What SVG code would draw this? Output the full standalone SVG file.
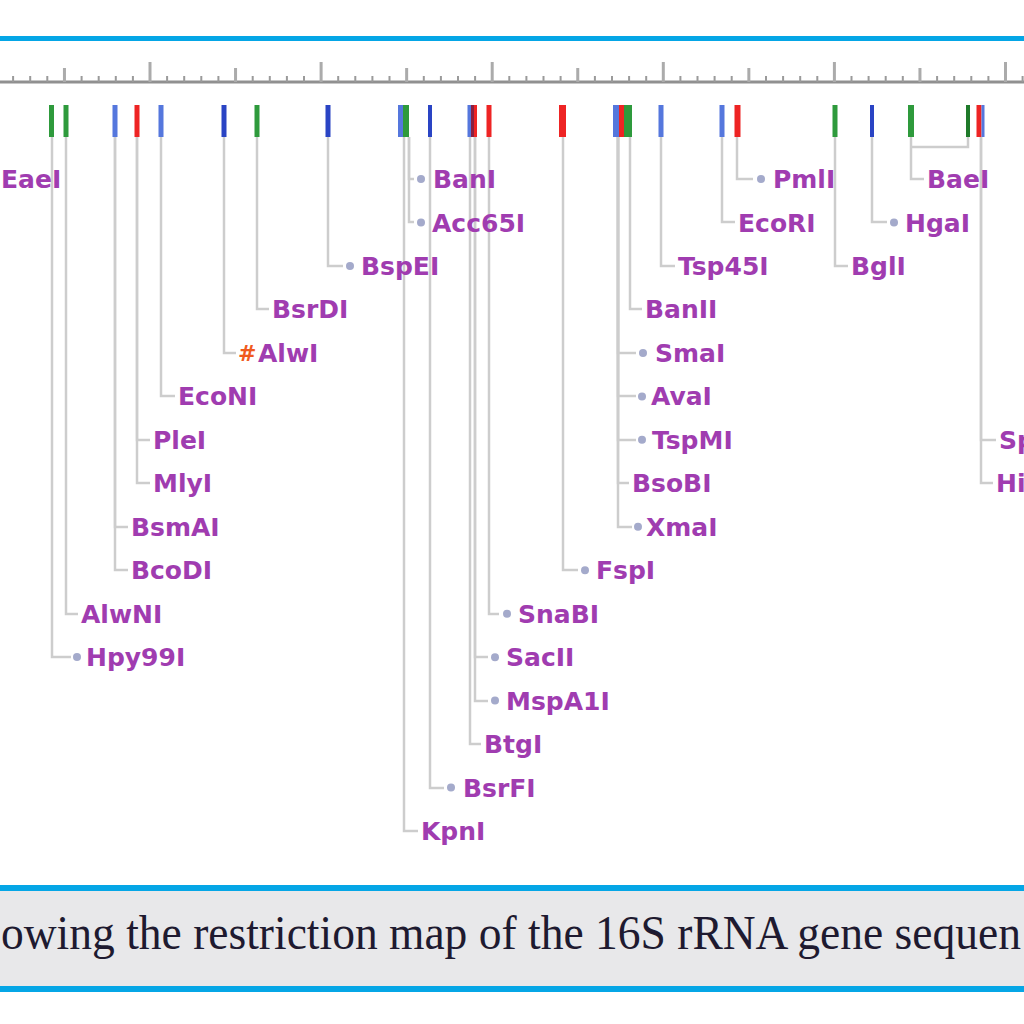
<svg xmlns="http://www.w3.org/2000/svg" width="1024" height="1024" viewBox="0 0 1024 1024">
<style>
.lbl{font-family:"DejaVu Sans",Verdana,sans-serif;font-weight:bold;font-size:25px;fill:#a03cb0}
.hash{font-family:"DejaVu Sans",Verdana,sans-serif;font-weight:bold;font-size:22px;fill:#f05a1e}
.star{fill:#a4aacb}
.con{fill:none;stroke:#cdcdcd;stroke-width:2.5}
.tick{stroke:#9a9a9a;stroke-width:2}
.tickL{stroke:#ababab;stroke-width:3}
.g{fill:#2e9a3c}.gd{fill:#1f7a2a}.b{fill:#5577dd}.bd{fill:#2a44c4}.r{fill:#ee2424}.dr{fill:#8a2040}
.cap{font-family:"Liberation Serif","Times New Roman",serif;font-size:48px;fill:#1e1a30}
</style>
<rect width="1024" height="1024" fill="#ffffff"/>
<rect x="0" y="36" width="1024" height="5" fill="#05a6e6"/>

<g id="ruler">
<line x1="0" y1="82" x2="1024" y2="82" stroke="#909090" stroke-width="3"/>
<path class="tick" d="M13.1 82V76M30.2 82V76M47.3 82V76M81.6 82V76M98.7 82V76M115.8 82V76M132.9 82V76M167.1 82V76M184.2 82V76M201.3 82V76M218.4 82V76M252.7 82V76M269.8 82V76M286.9 82V76M304 82V76M338.2 82V76M355.3 82V76M372.4 82V76M389.5 82V76M423.8 82V76M440.9 82V76M458 82V76M475.1 82V76M509.3 82V76M526.4 82V76M543.5 82V76M560.6 82V76M594.9 82V76M612 82V76M629.1 82V76M646.2 82V76M680.4 82V76M697.5 82V76M714.6 82V76M731.7 82V76M766 82V76M783.1 82V76M800.2 82V76M817.3 82V76M851.5 82V76M868.6 82V76M885.7 82V76M902.8 82V76M937.1 82V76M954.2 82V76M971.3 82V76M988.4 82V76M1022.6 82V76"/>
<path class="tickL" d="M64.45 82V68M235.55 82V68M406.65 82V68M577.75 82V68M748.85 82V68M919.95 82V68"/>
<path class="tickL" d="M150 82V62M321.1 82V62M492.2 82V62M663.3 82V62M834.4 82V62M1005.5 82V62"/>
</g>

<g id="connectors">
<path class="con" d="M52 137V657H71"/>
<path class="con" d="M66 137V614H78"/>
<path class="con" d="M115 137V527H128"/>
<path class="con" d="M115 137V570H128"/>
<path class="con" d="M137 137V440H150"/>
<path class="con" d="M137 137V483H150"/>
<path class="con" d="M161 137V396H175"/>
<path class="con" d="M224 137V353H236"/>
<path class="con" d="M257 137V309H269"/>
<path class="con" d="M328 137V266H343"/>
<path class="con" d="M409 137V179H414"/>
<path class="con" d="M409 137V222H414"/>
<path class="con" d="M404 137V831H418"/>
<path class="con" d="M430 137V788H444"/>
<path class="con" d="M470 137V744H481"/>
<path class="con" d="M475 137V701H488"/>
<path class="con" d="M475 137V657H488"/>
<path class="con" d="M489 137V614H499"/>
<path class="con" d="M563 137V570H578"/>
<path class="con" d="M630 137V309H642"/>
<path class="con" d="M618 137V353H636"/>
<path class="con" d="M618 137V396H636"/>
<path class="con" d="M618 137V440H636"/>
<path class="con" d="M618 137V483H629"/>
<path class="con" d="M618 137V527H632"/>
<path class="con" d="M661 137V266H675"/>
<path class="con" d="M722 137V222H735"/>
<path class="con" d="M737 137V179H753"/>
<path class="con" d="M835 137V266H848"/>
<path class="con" d="M872 137V222H887"/>
<path class="con" d="M968 137V147H911"/>
<path class="con" d="M911 137V179H924"/>
<path class="con" d="M981 137V440H996"/>
<path class="con" d="M981 137V483H993"/>
</g>

<g id="sites">
<rect class="g" x="49" y="105" width="5" height="32"/>
<rect class="g" x="63.5" y="105" width="5" height="32"/>
<rect class="b" x="112.5" y="105" width="5" height="32"/>
<rect class="r" x="134.5" y="105" width="5" height="32"/>
<rect class="b" x="158.5" y="105" width="5" height="32"/>
<rect class="bd" x="221.5" y="105" width="5" height="32"/>
<rect class="g" x="254.5" y="105" width="5" height="32"/>
<rect class="bd" x="325.5" y="105" width="5" height="32"/>
<rect class="b" x="398" y="105" width="5" height="32"/>
<rect class="g" x="403" y="105" width="6" height="32"/>
<rect class="bd" x="428" y="105" width="4" height="32"/>
<rect class="b" x="467.5" y="105" width="3.5" height="32"/>
<rect class="dr" x="471" y="105" width="3" height="32"/>
<rect class="r" x="474" y="105" width="3" height="32"/>
<rect class="r" x="486.5" y="105" width="5" height="32"/>
<rect class="r" x="559" y="105" width="7" height="32"/>
<rect class="b" x="613" y="105" width="6" height="32"/>
<rect class="r" x="619" y="105" width="5" height="32"/>
<rect class="g" x="624" y="105" width="8" height="32"/>
<rect class="b" x="658.5" y="105" width="5" height="32"/>
<rect class="b" x="719.5" y="105" width="5" height="32"/>
<rect class="r" x="734.5" y="105" width="6" height="32"/>
<rect class="g" x="832.5" y="105" width="5" height="32"/>
<rect class="bd" x="870" y="105" width="4" height="32"/>
<rect class="g" x="908" y="105" width="6" height="32"/>
<rect class="gd" x="966" y="105" width="4" height="32"/>
<rect class="r" x="976.5" y="105" width="5" height="32"/>
<rect class="b" x="981.5" y="105" width="3" height="32"/>
</g>

<g id="EaeI"><text class="lbl" x="1" y="188">EaeI</text></g>
<g id="Hpy99I"><circle class="star" cx="77" cy="657" r="4"/><text class="lbl" x="86" y="666.2">Hpy99I</text></g>
<g id="AlwNI"><text class="lbl" x="81" y="622.7">AlwNI</text></g>
<g id="BsmAI"><text class="lbl" x="131" y="535.8">BsmAI</text></g>
<g id="BcoDI"><text class="lbl" x="131" y="579.2">BcoDI</text></g>
<g id="PleI"><text class="lbl" x="153" y="448.8">PleI</text></g>
<g id="MlyI"><text class="lbl" x="153" y="492.3">MlyI</text></g>
<g id="EcoNI"><text class="lbl" x="178" y="405.4">EcoNI</text></g>
<g id="AlwI"><text class="hash" x="238" y="361">#</text><text class="lbl" x="258" y="361.9">AlwI</text></g>
<g id="BsrDI"><text class="lbl" x="272" y="318.4">BsrDI</text></g>
<g id="BspEI"><circle class="star" cx="350" cy="266" r="4"/><text class="lbl" x="361" y="275">BspEI</text></g>
<g id="BanI"><circle class="star" cx="421" cy="179" r="4"/><text class="lbl" x="433" y="188">BanI</text></g>
<g id="Acc65I"><circle class="star" cx="421" cy="222.5" r="4"/><text class="lbl" x="432" y="231.5">Acc65I</text></g>
<g id="KpnI"><text class="lbl" x="421" y="840">KpnI</text></g>
<g id="BsrFI"><circle class="star" cx="451" cy="787.6" r="4"/><text class="lbl" x="463" y="796.6">BsrFI</text></g>
<g id="BtgI"><text class="lbl" x="484" y="753.1">BtgI</text></g>
<g id="MspA1I"><circle class="star" cx="495" cy="700.6" r="4"/><text class="lbl" x="506" y="709.6">MspA1I</text></g>
<g id="SacII"><circle class="star" cx="495" cy="657.2" r="4"/><text class="lbl" x="506" y="666.2">SacII</text></g>
<g id="SnaBI"><circle class="star" cx="507" cy="613.7" r="4"/><text class="lbl" x="518" y="622.7">SnaBI</text></g>
<g id="FspI"><circle class="star" cx="585" cy="570.2" r="4"/><text class="lbl" x="596" y="579.2">FspI</text></g>
<g id="BanII"><text class="lbl" x="645" y="318.4">BanII</text></g>
<g id="SmaI"><circle class="star" cx="643" cy="352.9" r="4"/><text class="lbl" x="655" y="361.9">SmaI</text></g>
<g id="AvaI"><circle class="star" cx="642" cy="396.4" r="4"/><text class="lbl" x="651" y="405.4">AvaI</text></g>
<g id="TspMI"><circle class="star" cx="642" cy="439.8" r="4"/><text class="lbl" x="652" y="448.8">TspMI</text></g>
<g id="BsoBI"><text class="lbl" x="632" y="492.3">BsoBI</text></g>
<g id="XmaI"><circle class="star" cx="638" cy="526.8" r="4"/><text class="lbl" x="646" y="535.8">XmaI</text></g>
<g id="Tsp45I"><text class="lbl" x="678" y="275">Tsp45I</text></g>
<g id="EcoRI"><text class="lbl" x="738" y="231.5">EcoRI</text></g>
<g id="PmlI"><circle class="star" cx="761" cy="179" r="4"/><text class="lbl" x="773" y="188">PmlI</text></g>
<g id="BglI"><text class="lbl" x="851" y="275">BglI</text></g>
<g id="HgaI"><circle class="star" cx="894" cy="222.5" r="4"/><text class="lbl" x="905" y="231.5">HgaI</text></g>
<g id="BaeI"><text class="lbl" x="927" y="188">BaeI</text></g>
<g id="Sp"><text class="lbl" x="999" y="448.8">Sp</text></g>
<g id="Hi"><text class="lbl" x="996" y="492.3">Hi</text></g>

<g id="caption">
<rect x="0" y="885" width="1024" height="6" fill="#05a6e6"/>
<rect x="0" y="891" width="1024" height="95" fill="#e8e8ea"/>
<rect x="0" y="986" width="1024" height="6" fill="#05a6e6"/>
<text class="cap" x="1" y="949" textLength="1020" lengthAdjust="spacingAndGlyphs">owing the restriction map of the 16S rRNA gene sequen</text>
</g>
</svg>
